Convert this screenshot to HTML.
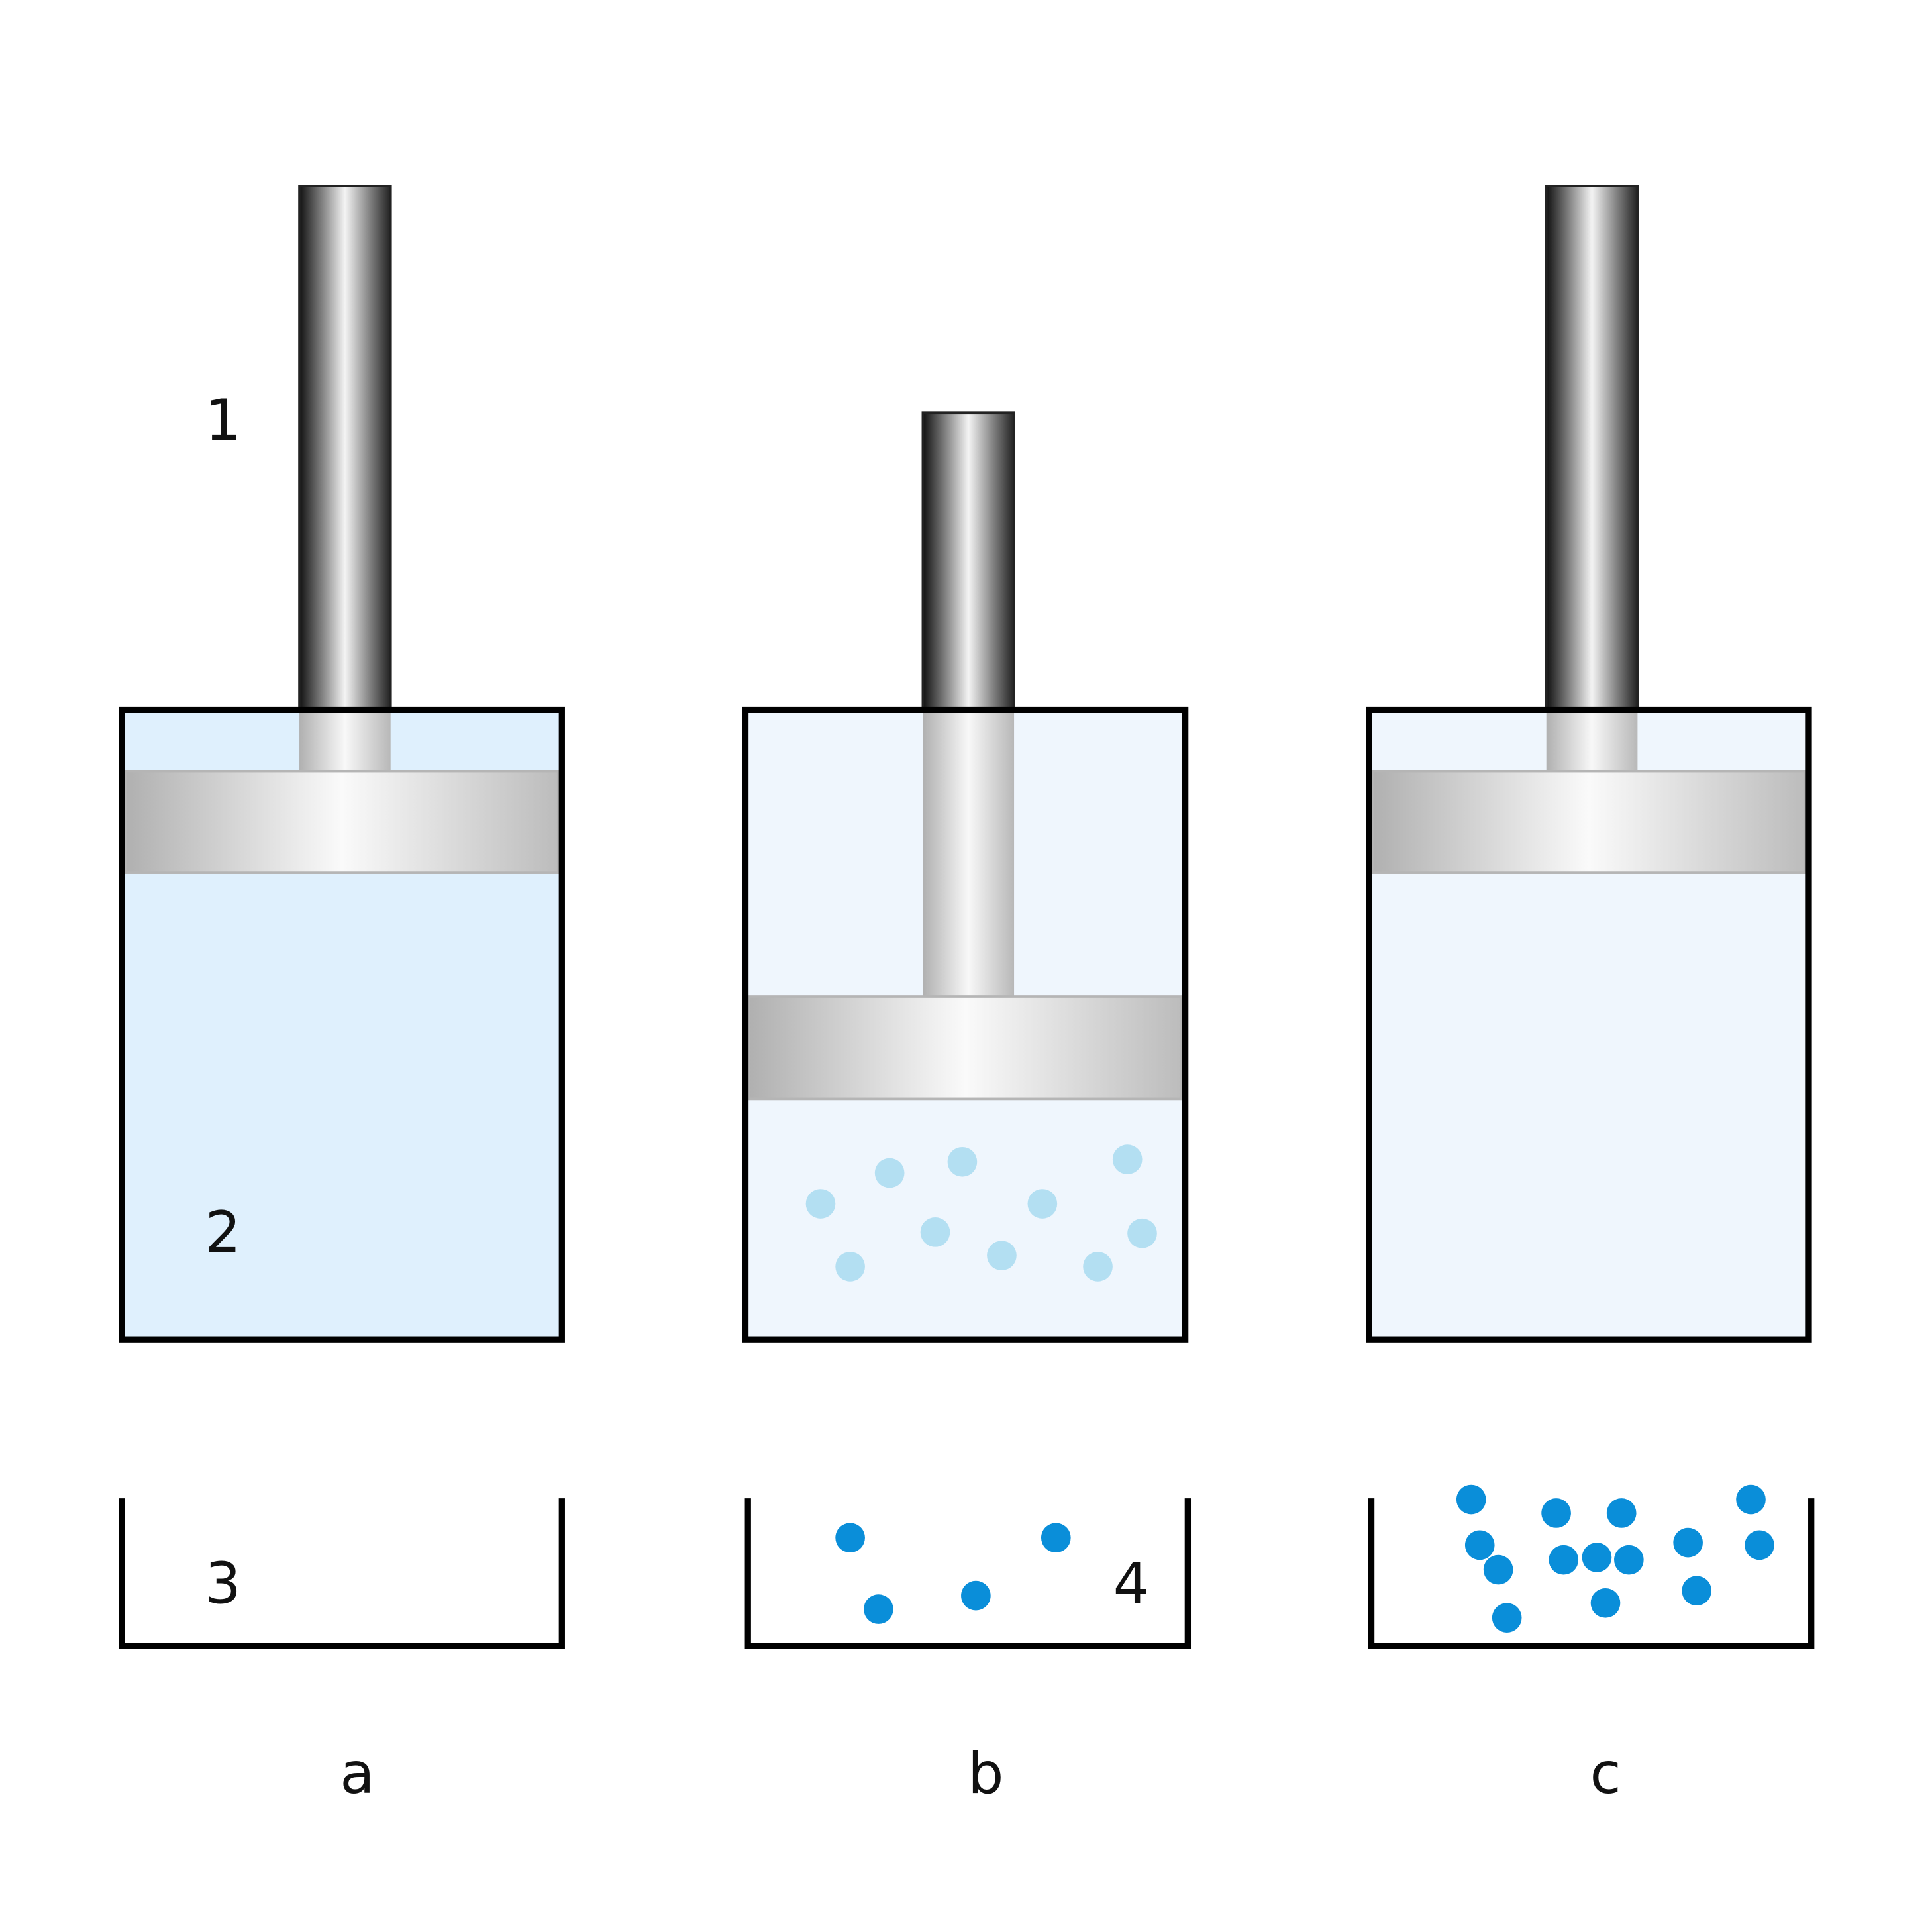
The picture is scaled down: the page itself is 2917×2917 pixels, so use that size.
<!DOCTYPE html>
<html><head><meta charset="utf-8"><style>html,body{margin:0;padding:0;background:#fff}svg{display:block}</style></head>
<body>
<svg width="2917" height="2917" viewBox="0 0 1568 1568" xmlns="http://www.w3.org/2000/svg">
<defs>
<linearGradient id="rod" x1="0" x2="1" y1="0" y2="0">
<stop offset="0" stop-color="#111"/><stop offset="0.5" stop-color="#f4f4f4"/><stop offset="1" stop-color="#222"/>
</linearGradient>
<linearGradient id="rodin" x1="0" x2="1" y1="0" y2="0">
<stop offset="0" stop-color="#b0b0b0"/><stop offset="0.5" stop-color="#f8f8f8"/><stop offset="1" stop-color="#b8b8b8"/>
</linearGradient>
<linearGradient id="pis" x1="0" x2="1" y1="0" y2="0">
<stop offset="0" stop-color="#b0b0b0"/><stop offset="0.5" stop-color="#fafafa"/><stop offset="1" stop-color="#bcbcbc"/>
</linearGradient>
</defs>
<g font-family="'DejaVu Sans','Liberation Sans',sans-serif" font-size="46" fill="#111" text-anchor="middle">
<!-- a -->
<rect x="99" y="576" width="357" height="511" fill="#dff0fd"/>
<rect x="243" y="151" width="74" height="425" fill="url(#rod)" stroke="#222" stroke-width="2"/>
<rect x="243" y="578" width="74" height="50" fill="url(#rodin)"/>
<rect x="102" y="626" width="351" height="82" fill="url(#pis)" stroke="#b5b5b5" stroke-width="2"/>
<rect x="99" y="576" width="357" height="511" fill="none" stroke="#000" stroke-width="5"/>
<!-- b -->
<rect x="605" y="576" width="357" height="511" fill="#eff6fd"/>
<rect x="749" y="335" width="74" height="241" fill="url(#rod)" stroke="#222" stroke-width="2"/>
<rect x="749" y="578" width="74" height="232" fill="url(#rodin)"/>
<rect x="608" y="809" width="351" height="83" fill="url(#pis)" stroke="#b5b5b5" stroke-width="2"/>
<rect x="605" y="576" width="357" height="511" fill="none" stroke="#000" stroke-width="5"/>
<!-- c -->
<rect x="1111" y="576" width="357" height="511" fill="#eff6fd"/>
<rect x="1255" y="151" width="74" height="425" fill="url(#rod)" stroke="#222" stroke-width="2"/>
<rect x="1255" y="578" width="74" height="50" fill="url(#rodin)"/>
<rect x="1114" y="626" width="351" height="82" fill="url(#pis)" stroke="#b5b5b5" stroke-width="2"/>
<rect x="1111" y="576" width="357" height="511" fill="none" stroke="#000" stroke-width="5"/>
<!-- trays -->
<polyline points="99,1216 99,1336 456,1336 456,1216" fill="none" stroke="#000" stroke-width="5"/>
<polyline points="607,1216 607,1336 964,1336 964,1216" fill="none" stroke="#000" stroke-width="5"/>
<polyline points="1113,1216 1113,1336 1470,1336 1470,1216" fill="none" stroke="#000" stroke-width="5"/>
<!-- light dots -->
<g fill="#b3dff2">
<circle cx="666" cy="977" r="12"/><circle cx="722" cy="952" r="12"/><circle cx="781" cy="943" r="12"/><circle cx="846" cy="977" r="12"/><circle cx="915" cy="941" r="12"/><circle cx="759" cy="1000" r="12"/><circle cx="927" cy="1001" r="12"/><circle cx="690" cy="1028" r="12"/><circle cx="813" cy="1019" r="12"/><circle cx="891" cy="1028" r="12"/>
</g>
<g fill="#0a8ed9">
<circle cx="690" cy="1248" r="12"/><circle cx="857" cy="1248" r="12"/><circle cx="713" cy="1306" r="12"/><circle cx="792" cy="1295" r="12"/>
<circle cx="1194" cy="1217" r="12"/><circle cx="1263" cy="1228" r="12"/><circle cx="1316" cy="1228" r="12"/><circle cx="1421" cy="1217" r="12"/><circle cx="1201" cy="1254" r="12"/><circle cx="1216" cy="1274" r="12"/><circle cx="1269" cy="1266" r="12"/><circle cx="1296" cy="1264" r="12"/><circle cx="1322" cy="1266" r="12"/><circle cx="1370" cy="1252" r="12"/><circle cx="1428" cy="1254" r="12"/><circle cx="1223" cy="1313" r="12"/><circle cx="1303" cy="1301" r="12"/><circle cx="1377" cy="1291" r="12"/>
</g>
<text x="181" y="357">1</text>
<text x="181" y="1016">2</text>
<text x="181" y="1301">3</text>
<text x="918" y="1301">4</text>
<text x="290" y="1455">a</text>
<text x="800" y="1455">b</text>
<text x="1303" y="1455">c</text>
</g>
</svg>
</body></html>
